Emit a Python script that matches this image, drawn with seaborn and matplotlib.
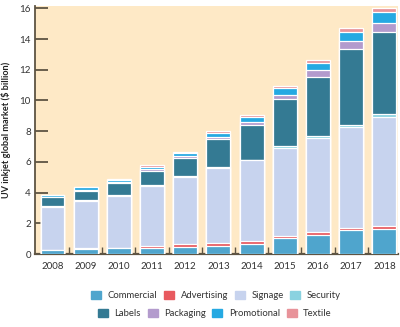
import numpy as np
import pandas as pd
import matplotlib
matplotlib.use("Agg")
import matplotlib.pyplot as plt
from matplotlib.patches import Patch
import seaborn as sns

years = ["2008", "2009", "2010", "2011", "2012", "2013", "2014", "2015", "2016", "2017", "2018"]
commercial  = [0.25, 0.33, 0.37, 0.39, 0.48, 0.54, 0.65, 1.02, 1.24, 1.56, 1.65]
advertising = [0.03, 0.03, 0.04, 0.12, 0.17, 0.15, 0.18, 0.15, 0.17, 0.15, 0.19]
signage     = [2.80, 3.11, 3.39, 3.92, 4.38, 4.89, 5.27, 5.71, 6.16, 6.58, 7.06]
security    = [0.05, 0.05, 0.05, 0.06, 0.07, 0.11, 0.05, 0.15, 0.11, 0.11, 0.21]
labels      = [0.56, 0.60, 0.75, 0.93, 1.17, 1.78, 2.23, 3.06, 3.86, 4.93, 5.36]
packaging   = [0.03, 0.05, 0.06, 0.13, 0.12, 0.17, 0.23, 0.26, 0.42, 0.54, 0.59]
promotional = [0.12, 0.17, 0.16, 0.11, 0.20, 0.26, 0.33, 0.44, 0.49, 0.60, 0.71]
textile     = [0.02, 0.02, 0.06, 0.16, 0.08, 0.13, 0.11, 0.15, 0.18, 0.22, 0.23]

series_names = ["Commercial", "Advertising", "Signage", "Security",
                "Labels", "Packaging", "Promotional", "Textile"]
series_vals = [commercial, advertising, signage, security,
               labels, packaging, promotional, textile]
colors = ["#4fa5cd", "#e85a5f", "#c7d3ee", "#8ad2e0",
          "#347a93", "#b39bcd", "#25a9e2", "#e8939a"]

df = pd.DataFrame({"year": years})
for n, v in zip(series_names, series_vals):
    df[n] = v
cum = df[series_names].cumsum(axis=1)

fig = plt.figure(figsize=(4.0, 3.27), dpi=100)
ax = fig.add_axes([35/400, 1-254/327, 363/400, 248/327])
ax.set_facecolor("#fee9c6")

font = "Lato"
plt.rcParams["font.family"] = [font, "DejaVu Sans"]

for i in range(len(series_names) - 1, -1, -1):
    name = series_names[i]
    sns.barplot(x=df["year"], y=cum[name], color=colors[i], ax=ax,
                width=0.72, edgecolor="white", linewidth=0.9,
                saturation=1, zorder=3)

ax.set_xlim(-0.527, 10.41)
ax.set_ylim(0, 16.15)
ax.set_yticks(np.arange(0, 17, 2))
ax.set_yticklabels([str(v) for v in range(0, 17, 2)], fontsize=7, family=font, color="#333333")
ax.set_xticklabels(years, fontsize=7, family=font, color="#333333")
ax.set_xlabel("")
ax.set_ylabel("UV inkjet global market ($ billion)", fontsize=6.6, family=font,
              fontweight="bold", color="#222222", labelpad=6)

spine_c = "#5e5443"
for s in ["top", "right"]:
    ax.spines[s].set_visible(False)
ax.spines["left"].set_color(spine_c)
ax.spines["left"].set_linewidth(1.3)
ax.spines["bottom"].set_color(spine_c)
ax.spines["bottom"].set_linewidth(1.6)
ax.spines["bottom"].set_zorder(2)

ax.tick_params(axis="y", direction="in", length=9, width=1.3, color=spine_c, pad=3)
ax.tick_params(axis="x", which="major", length=0, pad=6)
ax.set_xticks(np.arange(0.5, 10, 1), minor=True)
ax.tick_params(axis="x", which="minor", direction="in", length=5, width=1.0, color=spine_c)
ax.grid(False)

def handles(idx):
    return [Patch(facecolor=colors[i], edgecolor=colors[i], label=series_names[i]) for i in idx]

leg_kw = dict(ncol=4, frameon=False, prop={"family": font, "size": 6.8},
              handlelength=1.05, handleheight=1.05, handletextpad=0.7,
              columnspacing=0.7, borderpad=0, loc="center", labelcolor="#333333")
l1 = fig.legend(handles=handles([0, 1, 2, 3]), bbox_to_anchor=(216/400, 1-295.5/327), **leg_kw)
l2 = fig.legend(handles=handles([4, 5, 6, 7]), bbox_to_anchor=(215/400, 1-313.5/327), **leg_kw)

fig.savefig("out.png", dpi=100, facecolor="white")
